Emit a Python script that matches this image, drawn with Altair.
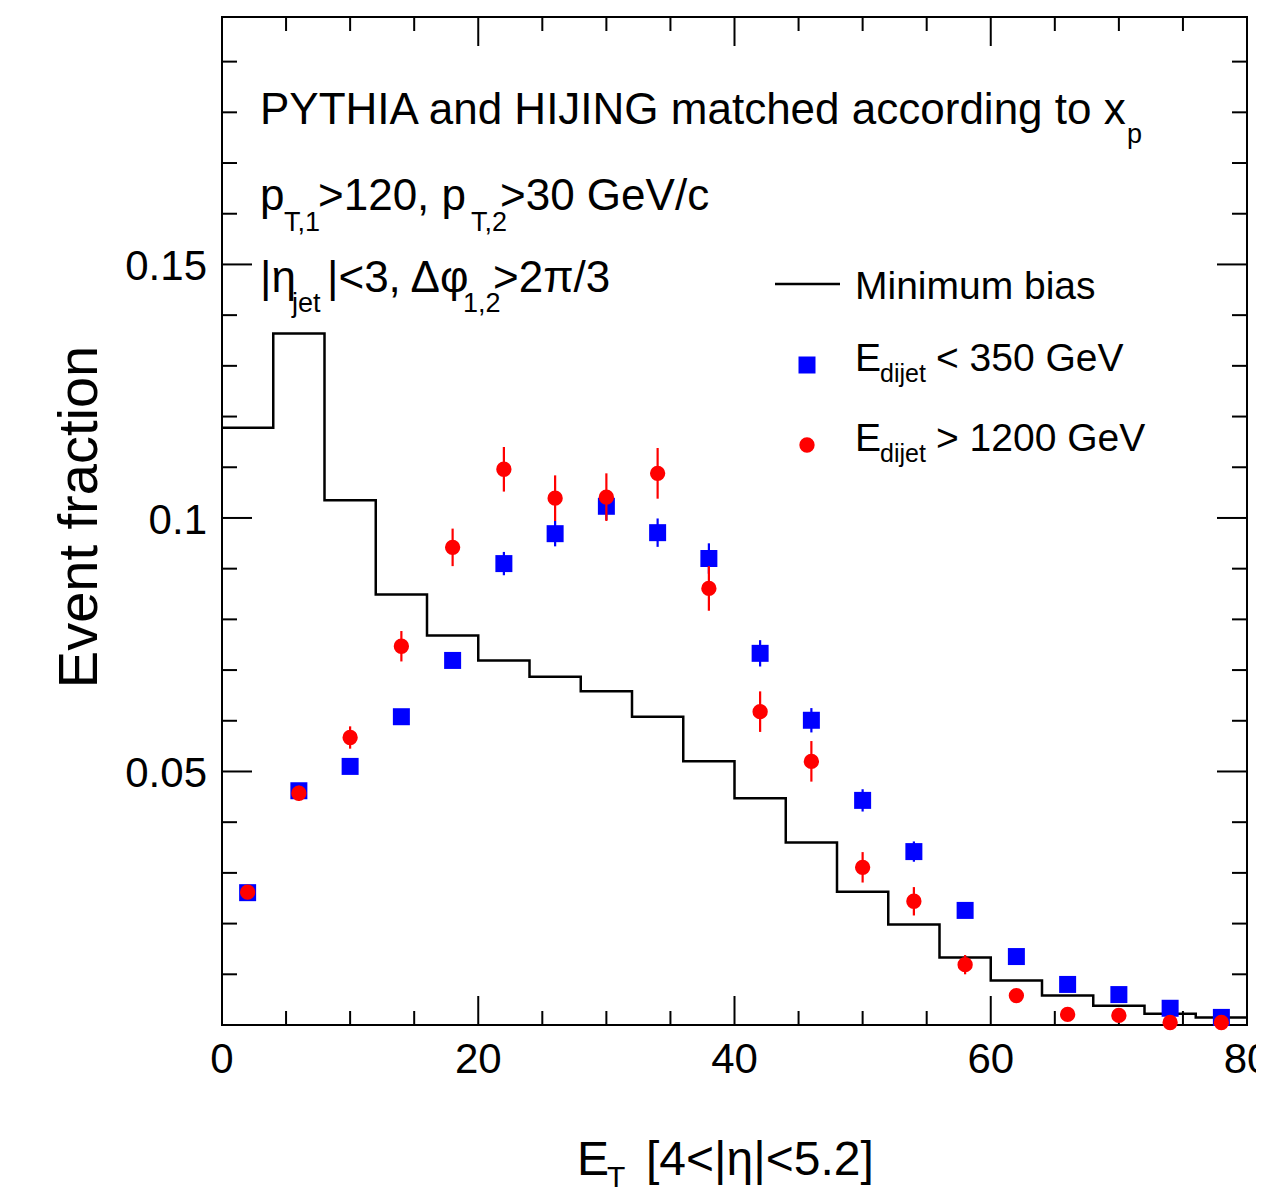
import altair as alt
import pandas as pd

# ---------------- data ----------------
bin_edges = [0, 4, 8, 12, 16, 20, 24, 28, 32, 36, 40, 44, 48, 52, 56, 60, 64, 68, 72, 76, 80]
x_centers = [2, 6, 10, 14, 18, 22, 26, 30, 34, 38, 42, 46, 50, 54, 58, 62, 66, 70, 74, 78]

min_bias = [0.1178, 0.1364, 0.1035, 0.0849, 0.0768, 0.0719, 0.0687, 0.0658, 0.0608, 0.0520,
            0.0447, 0.0360, 0.0263, 0.0198, 0.0133, 0.0088, 0.0058, 0.0038, 0.0022, 0.0015]

low_edijet = [0.0261, 0.0462, 0.0510, 0.0608, 0.0719, 0.0910, 0.0969, 0.1023, 0.0971, 0.0920,
              0.0733, 0.0601, 0.0443, 0.0342, 0.0226, 0.0135, 0.0080, 0.0060, 0.0033, 0.0015]
low_edijet_err = [0.0005, 0.0008, 0.0010, 0.0012, 0.0015, 0.0023, 0.0025, 0.0027, 0.0028, 0.0030,
                  0.0026, 0.0024, 0.0022, 0.0020, 0.0015, 0.0010, 0.0008, 0.0006, 0.0005, 0.0004]

high_edijet = [0.0262, 0.0457, 0.0567, 0.0747, 0.0942, 0.1096, 0.1039, 0.1041, 0.1088, 0.0861,
               0.0618, 0.0520, 0.0311, 0.0244, 0.0119, 0.0058, 0.0021, 0.0019, 0.0005, 0.0005]
high_edijet_err = [0.0010, 0.0015, 0.0022, 0.0030, 0.0037, 0.0044, 0.0045, 0.0047, 0.0050, 0.0044,
                   0.0040, 0.0040, 0.0030, 0.0028, 0.0019, 0.0012, 0.0008, 0.0008, 0.0004, 0.0004]

x_label_ticks = [0, 20, 40, 60, 80]
y_label_ticks = [0.05, 0.1, 0.15]
x_major_ticks = [20, 40, 60]
x_minor_ticks = [5, 10, 15, 25, 30, 35, 45, 50, 55, 65, 70, 75]
y_major_ticks = [0.05, 0.1, 0.15]
y_minor_ticks = [0.01, 0.02, 0.03, 0.04, 0.06, 0.07, 0.08, 0.09, 0.11, 0.12, 0.13, 0.14,
                 0.16, 0.17, 0.18, 0.19]

# ---------------- layout ----------------
FONT = "Liberation Sans"
W, H = 1025, 1008
OX, OY = 222, 17          # plot origin in page coordinates
XDOM = [0, 80]
YDOM = [0, 0.1988]

xs = alt.Scale(domain=XDOM, nice=False, zero=False)
ys = alt.Scale(domain=YDOM, nice=False, zero=False)

one = pd.DataFrame({"d": [0]})

# minimum-bias histogram as a step line
mb_df = pd.DataFrame({"x": bin_edges, "y": min_bias + [min_bias[-1]]})
mb_line = alt.Chart(mb_df).mark_line(interpolate="step-after", color="black", strokeWidth=2.5).encode(
    x=alt.X("x:Q", scale=xs, axis=None),
    y=alt.Y("y:Q", scale=ys, axis=None),
)


def series_layers(vals, errs, color, shape_mark):
    df = pd.DataFrame({"x": x_centers, "y": vals,
                       "lo": [v - e for v, e in zip(vals, errs)],
                       "hi": [v + e for v, e in zip(vals, errs)]})
    err = alt.Chart(df).mark_rule(color=color, strokeWidth=2.2).encode(
        x=alt.X("x:Q", scale=xs, axis=None),
        y=alt.Y("lo:Q", scale=ys, axis=None),
        y2="hi:Q",
    )
    pts = shape_mark(alt.Chart(df)).encode(
        x=alt.X("x:Q", scale=xs, axis=None),
        y=alt.Y("y:Q", scale=ys, axis=None),
    )
    return err, pts


blue_err, blue_pts = series_layers(
    low_edijet, low_edijet_err, "#0000ff",
    lambda c: c.mark_square(size=289, color="#0000ff", opacity=1, filled=True))
red_err, red_pts = series_layers(
    high_edijet, high_edijet_err, "#ff0000",
    lambda c: c.mark_circle(size=235, color="#ff0000", opacity=1))


# inward ticks on all four sides
def xticks(values, length):
    df = pd.DataFrame({"t": values})
    b = alt.Chart(df).mark_rule(color="black", strokeWidth=2).encode(
        x=alt.X("t:Q", scale=xs, axis=None), y=alt.value(H), y2=alt.value(H - length))
    t = alt.Chart(df).mark_rule(color="black", strokeWidth=2).encode(
        x=alt.X("t:Q", scale=xs, axis=None), y=alt.value(0), y2=alt.value(length))
    return [b, t]


def yticks(values, length):
    df = pd.DataFrame({"t": values})
    l = alt.Chart(df).mark_rule(color="black", strokeWidth=2).encode(
        y=alt.Y("t:Q", scale=ys, axis=None), x=alt.value(0), x2=alt.value(length))
    r = alt.Chart(df).mark_rule(color="black", strokeWidth=2).encode(
        y=alt.Y("t:Q", scale=ys, axis=None), x=alt.value(W), x2=alt.value(W - length))
    return [l, r]


tick_layers = (xticks(x_major_ticks, 29) + xticks(x_minor_ticks, 14)
               + yticks(y_major_ticks, 30) + yticks(y_minor_ticks, 15))

# tick labels, positioned through the scales
x_lab = alt.Chart(pd.DataFrame({"t": x_label_ticks})).mark_text(
    font=FONT, fontSize=42, align="center", baseline="alphabetic", color="black").encode(
    x=alt.X("t:Q", scale=xs, axis=None), y=alt.value(1073 - OY),
    text=alt.Text("t:Q", format="~g"))
y_lab = alt.Chart(pd.DataFrame({"t": y_label_ticks})).mark_text(
    font=FONT, fontSize=42, align="right", baseline="alphabetic", dy=16, color="black").encode(
    y=alt.Y("t:Q", scale=ys, axis=None), x=alt.value(207 - OX),
    text=alt.Text("t:Q", format="~g"))


def txt(s, px, py, size, align="left", angle=None):
    kw = dict(text=s, font=FONT, fontSize=size, align=align, baseline="alphabetic", color="black")
    if angle is not None:
        kw["angle"] = angle
    return alt.Chart(one).mark_text(**kw).encode(x=alt.value(px - OX), y=alt.value(py - OY))


S_MAIN, S_SUB = 44, 27
texts = [
    # line 1
    txt("PYTHIA and HIJING matched according to x", 260, 124, S_MAIN),
    txt("p", 1127, 143, S_SUB),
    # line 2
    txt("p", 260, 210, S_MAIN),
    txt("T,1", 284, 231, S_SUB),
    txt(">120, p", 318, 210, S_MAIN),
    txt("T,2", 471, 231, S_SUB),
    txt(">30 GeV/c", 500, 210, S_MAIN),
    # line 3
    txt("|η", 260, 292, S_MAIN),
    txt("jet", 292, 312, S_SUB),
    txt("|<3, Δφ", 327, 292, S_MAIN),
    txt("1,2", 463, 312, S_SUB),
    txt(">2π/3", 493, 292, S_MAIN),
    # legend
    txt("Minimum bias", 855, 299, 39),
    txt("E", 855, 371, 39),
    txt("dijet", 880, 382, 25),
    txt("< 350 GeV", 936, 371, 39),
    txt("E", 855, 451, 39),
    txt("dijet", 880, 462, 25),
    txt("> 1200 GeV", 936, 451, 39),
    # axis titles
    txt("E", 577, 1175, 48),
    txt("T", 607, 1187, 30),
    txt("[4<|η|<5.2]", 646, 1175, 48),
    txt("Event fraction", 97, 517, 56, align="center", angle=270),
]

legend_line = alt.Chart(one).mark_rule(color="black", strokeWidth=2.5).encode(
    x=alt.value(775 - OX), x2=alt.value(840 - OX), y=alt.value(284 - OY))
legend_sq = alt.Chart(one).mark_square(size=289, color="#0000ff", opacity=1, filled=True).encode(
    x=alt.value(807 - OX), y=alt.value(365 - OY))
legend_ci = alt.Chart(one).mark_circle(size=235, color="#ff0000", opacity=1).encode(
    x=alt.value(807 - OX), y=alt.value(445 - OY))

chart = alt.layer(
    mb_line, *tick_layers, blue_err, blue_pts, red_err, red_pts,
    legend_line, legend_sq, legend_ci, x_lab, y_lab, *texts,
).properties(
    width=W, height=H,
    autosize=alt.AutoSizeParams(type="none"),
    padding={"left": OX - 8, "top": OY - 8, "right": 1248 - (OX - 8) - W, "bottom": 1186 - (OY - 8) - H},
    background="white",
).configure_view(
    stroke="black", strokeWidth=2,
)

chart.save("out.html", embed_options={"renderer": "svg", "actions": False})
